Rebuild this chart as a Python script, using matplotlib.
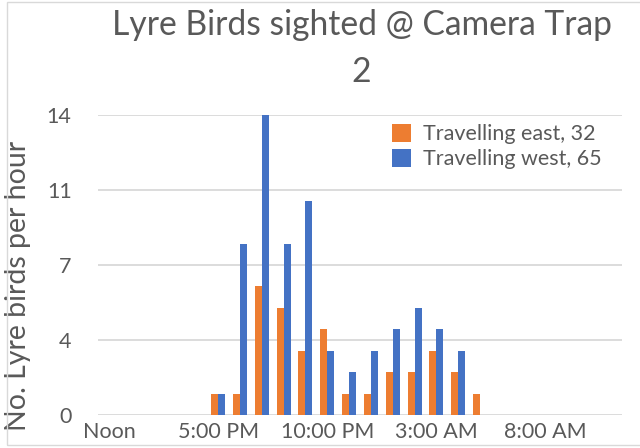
import matplotlib
matplotlib.use("Agg")
import matplotlib.pyplot as plt
from matplotlib.patches import Rectangle
import numpy as np

hours = ["Noon", "1:00 PM", "2:00 PM", "3:00 PM", "4:00 PM", "5:00 PM", "6:00 PM",
         "7:00 PM", "8:00 PM", "9:00 PM", "10:00 PM", "11:00 PM", "Midnight",
         "1:00 AM", "2:00 AM", "3:00 AM", "4:00 AM", "5:00 AM", "6:00 AM",
         "7:00 AM", "8:00 AM", "9:00 AM", "10:00 AM", "11:00 AM"]
east = [0, 0, 0, 0, 0, 1, 1, 6, 5, 3, 4, 1, 1, 2, 2, 3, 2, 1, 0, 0, 0, 0, 0, 0]
west = [0, 0, 0, 0, 0, 1, 8, 14, 8, 10, 3, 2, 3, 4, 5, 4, 3, 0, 0, 0, 0, 0, 0, 0]
east_label = "Travelling east, 32"
west_label = "Travelling west, 65"
y_ticks = [0, 3.5, 7, 10.5, 14]
y_tick_labels = ["0", "4", "7", "11", "14"]
x_tick_idx = [0, 5, 10, 15, 20]
title_line1 = "Lyre Birds sighted @ Camera Trap"
title_line2 = "2"
ylabel = "No. Lyre birds per hour"

TXT = "#595959"
GRID = "#D9D9D9"
ORANGE = "#ED7D31"
BLUE = "#4472C4"
FONT = ["Lato", "DejaVu Sans"]
plt.rcParams["font.family"] = FONT

W, H = 640, 448
fig = plt.figure(figsize=(W / 100, H / 100), dpi=100)
fig.patch.set_facecolor("white")

# chart border
fig.patches.append(Rectangle((7 / W, 3 / H), (W + 10) / W, 443 / H,
                             transform=fig.transFigure, fill=False,
                             edgecolor=GRID, linewidth=1.0, zorder=0))

AX_L, AX_R, AX_T, AX_B = 98, 622, 115, 415
ax = fig.add_axes([AX_L / W, 1 - AX_B / H, (AX_R - AX_L) / W, (AX_B - AX_T) / H])
x = np.arange(len(hours))
bw = 0.32
ax.bar(x - bw / 2, east, width=bw, color=ORANGE, label=east_label, zorder=3)
ax.bar(x + bw / 2, west, width=bw, color=BLUE, label=west_label, zorder=3)

ax.set_xlim(-0.5, len(hours) - 0.5)
ax.set_ylim(0, 14)
ax.set_yticks(y_ticks)
ax.set_yticklabels(y_tick_labels)
ax.set_xticks(x_tick_idx)
ax.set_xticklabels([hours[i] for i in x_tick_idx])
for s in ax.spines.values():
    s.set_visible(False)
for yv in y_ticks:
    ax.axhline(yv, color=GRID, linewidth=1.3, zorder=1)
ax.tick_params(axis="both", length=0, colors=TXT, labelsize=15.5)
ax.tick_params(axis="y", pad=19)
ax.tick_params(axis="x", pad=5)
ax.set_ylabel(ylabel, color=TXT, fontsize=20.5)
ax.yaxis.set_label_coords((31 - AX_L) / (AX_R - AX_L), (AX_B - 286) / (AX_B - AX_T))

fig.text(362 / W, 1 - 35 / H, title_line1, ha="center", va="baseline",
         fontsize=24.2, color=TXT)
fig.text(361 / W, 1 - 82 / H, title_line2, ha="center", va="baseline",
         fontsize=24.2, color=TXT)

leg = ax.legend(loc="upper left",
                bbox_to_anchor=((392 - AX_L) / (AX_R - AX_L), 1 - 9 / 300),
                frameon=False, fontsize=15.5, handlelength=0.88, handleheight=0.88,
                handletextpad=0.56, labelspacing=0.22, borderaxespad=0, borderpad=0)
for t in leg.get_texts():
    t.set_color(TXT)

fig.savefig("out.png", dpi=100)
